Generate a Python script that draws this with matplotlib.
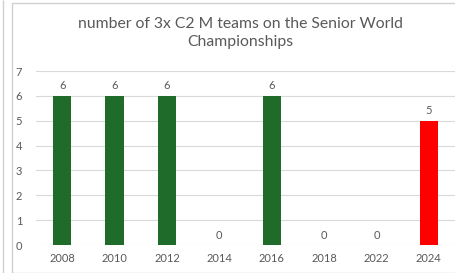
import matplotlib
matplotlib.use("Agg")
import matplotlib.pyplot as plt
from matplotlib.patches import Rectangle

years = ["2008", "2010", "2012", "2014", "2016", "2018", "2022", "2024"]
teams = [6, 6, 6, 0, 6, 0, 0, 5]
colors = ["#1e6b2a"] * 7 + ["#ff0000"]

plt.rcParams['font.family'] = ['Lato', 'DejaVu Sans']
fig = plt.figure(figsize=(4.56, 2.73), dpi=100)
fig.patches.append(Rectangle((12/456, 0), 1, 1 - 3/273, transform=fig.transFigure,
                             fill=False, edgecolor="#d0d0d0", linewidth=1))
fig.patches.append(Rectangle((3/456, 0), 0, 1, transform=fig.transFigure,
                             fill=False, edgecolor="#d0d0d0", linewidth=1))
ax = fig.add_axes([36/456, 1 - 245/273, 419/456, (245 - 71)/273])
x = range(len(years))
bars = ax.bar(x, teams, width=0.35, color=colors, zorder=3)
for xi, v in zip(x, teams):
    ax.text(xi, v + 0.18, str(v), ha="center", va="bottom", fontsize=8, color="#595959")
ax.set_ylim(0, 7)
ax.set_xlim(-0.5, len(years) - 0.5)
ax.set_yticks(range(8))
ax.set_xticks(list(x))
ax.set_xticklabels(years)
ax.tick_params(axis="both", length=0, labelsize=8, labelcolor="#595959")
ax.tick_params(axis="y", pad=10)
ax.tick_params(axis="x", pad=6)
ax.grid(axis="y", color="#d9d9d9", linewidth=0.8, zorder=0)
for s in ax.spines.values():
    s.set_visible(False)
fig.text(240/456, 1 - 33/273, "number of 3x C2 M teams on the Senior World\nChampionships",
         ha="center", va="center", fontsize=11.3, color="#595959", linespacing=1.3)
fig.savefig("out.png", dpi=100)
